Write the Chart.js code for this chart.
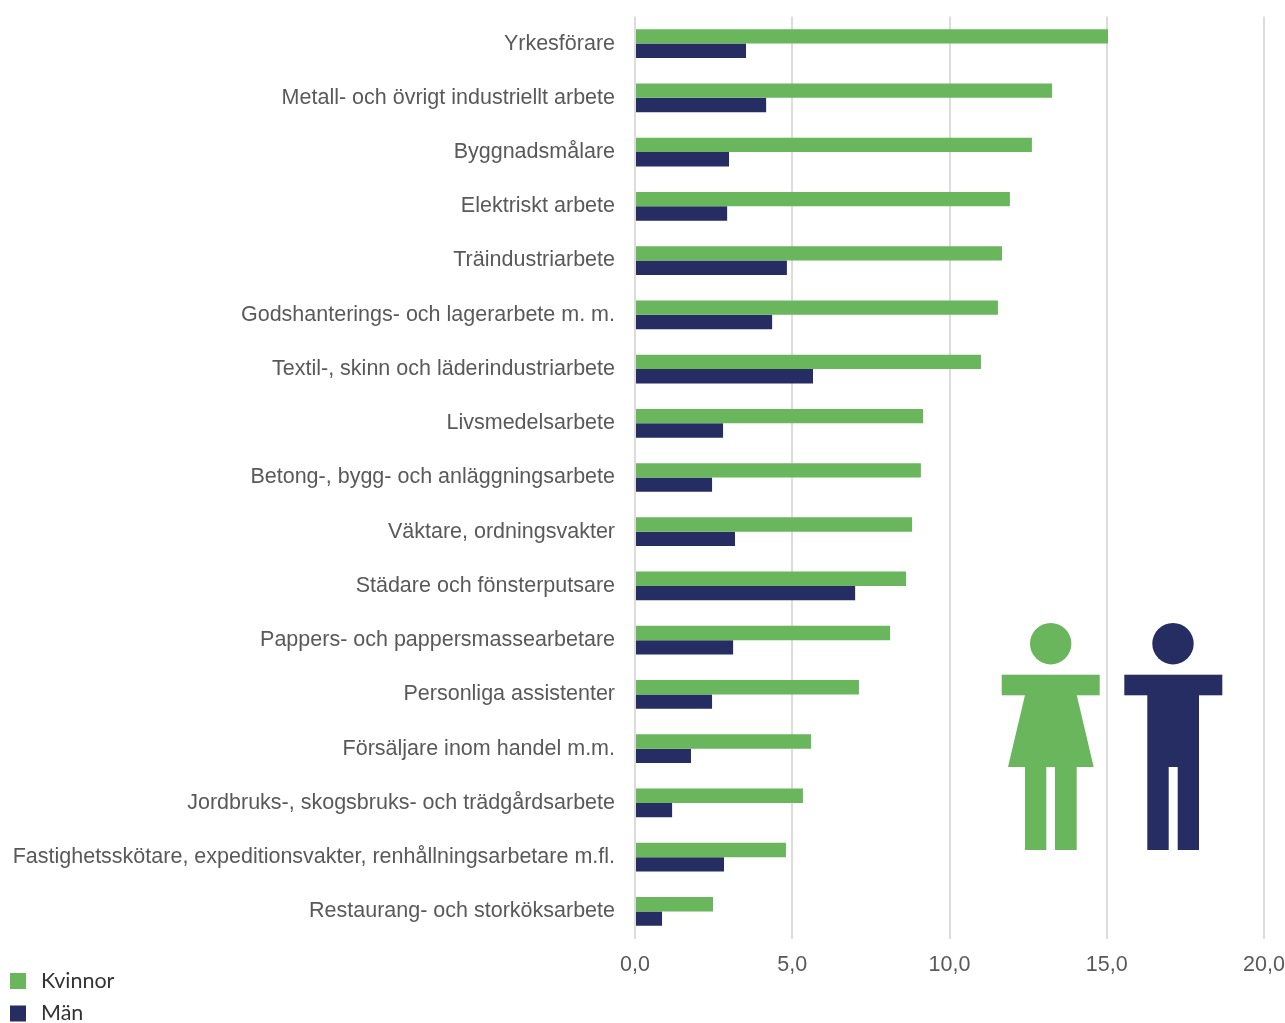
<!DOCTYPE html>
<html lang="sv">
<head>
<meta charset="utf-8">
<title>Yrken</title>
<script src="https://cdn.jsdelivr.net/npm/chart.js@4"></script>
<style>html,body{margin:0;padding:0;background:#fff}canvas{display:block}</style>
</head>
<body>
<canvas id="c" width="1285" height="1023"></canvas>
<script>
const categories = ["Yrkesförare","Metall- och övrigt industriellt arbete","Byggnadsmålare","Elektriskt arbete","Träindustriarbete","Godshanterings- och lagerarbete m. m.","Textil-, skinn och läderindustriarbete","Livsmedelsarbete","Betong-, bygg- och anläggningsarbete","Väktare, ordningsvakter","Städare och fönsterputsare","Pappers- och pappersmassearbetare","Personliga assistenter","Försäljare inom handel m.m.","Jordbruks-, skogsbruks- och trädgårdsarbete","Fastighetsskötare, expeditionsvakter, renhållningsarbetare m.fl.","Restaurang- och storköksarbete"];
const kvinnor = [15.04,13.26,12.62,11.92,11.67,11.54,11.0,9.16,9.09,8.81,8.62,8.11,7.12,5.6,5.34,4.8,2.48];
const man = [3.53,4.17,2.99,2.93,4.83,4.36,5.66,2.8,2.45,3.18,7.0,3.12,2.45,1.78,1.18,2.83,0.86];
const seriesNames = ["Kvinnor","Män"];
const GREEN = "#69b65d", NAVY = "#262d63", TEXT = "#595959", GRID = "#dcdcdc";
const LABEL_FONT = '"Liberation Sans", Arial, sans-serif';

const figures = {
  id: "figures",
  afterDatasetsDraw(chart) {
    const g = chart.ctx;
    const poly = pts => { g.beginPath(); pts.forEach((p,i)=> i?g.lineTo(p[0],p[1]):g.moveTo(p[0],p[1])); g.closePath(); g.fill(); };
    const head = x => { g.beginPath(); g.arc(x,643.7,20.7,0,Math.PI*2); g.fill(); };
    g.save();
    g.fillStyle = GREEN;
    head(1050.7);
    g.fillRect(1001.7,674.7,98,20.6);
    poly([[1025,695],[1076.7,695],[1093.7,767],[1008,767]]);
    g.fillRect(1025,766.5,21.3,83.5);
    g.fillRect(1055,766.5,21.7,83.5);
    g.fillStyle = NAVY;
    head(1173);
    g.fillRect(1124.3,674.7,98,20.6);
    poly([[1147.3,695],[1199,695],[1199,850],[1177.7,850],[1177.7,767],[1168.7,767],[1168.7,850],[1147.3,850]]);
    g.restore();
  }
};
const sideLegend = {
  id: "sideLegend",
  afterDraw(chart) {
    const g = chart.ctx;
    g.save();
    g.textBaseline = "middle";
    g.font = "21.5px Lato";
    chart.data.datasets.forEach((d,i)=>{
      const y = 981 + i*32.5;
      g.fillStyle = d.backgroundColor;
      g.fillRect(10,y-8,16,16);
      g.fillStyle = "#333333";
      g.fillText(d.label,41,y);
    });
    g.restore();
  }
};
new Chart(document.getElementById("c"),{
  type:"bar",
  data:{labels:categories,datasets:[
    {label:seriesNames[0],data:kvinnor,backgroundColor:GREEN},
    {label:seriesNames[1],data:man,backgroundColor:NAVY}
  ]},
  plugins:[figures,sideLegend],
  options:{
    indexAxis:"y",responsive:false,animation:false,
    layout:{padding:{top:16.5,right:21,left:0,bottom:0}},
    datasets:{bar:{barPercentage:1,categoryPercentage:0.53}},
    plugins:{legend:{display:false},tooltip:{enabled:false}},
    scales:{
      x:{min:0,max:20,
        ticks:{stepSize:5,color:TEXT,font:{family:LABEL_FONT,size:21.5},padding:13.5,maxRotation:0,
          callback:v=>v.toFixed(1).replace(".",",")},
        grid:{color:GRID,lineWidth:2,drawTicks:false},border:{display:false},
        afterFit(s){s.height=84.5;s.paddingLeft=0;s.paddingRight=0}},
      y:{
        ticks:{color:TEXT,font:{family:LABEL_FONT,size:21.5},padding:20,autoSkip:false},
        grid:{display:false,drawTicks:false},border:{display:false},
        afterFit(s){s.width=635;s.paddingTop=0;s.paddingBottom=0}}
    }
  }
});
</script>
</body>
</html>
